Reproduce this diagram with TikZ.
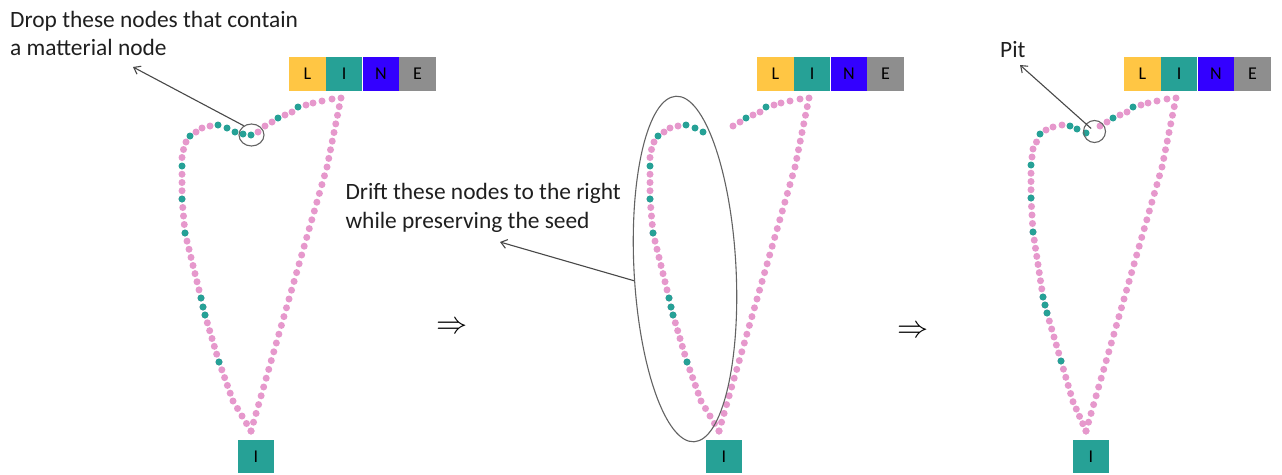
\documentclass[tikz,border=0pt]{standalone}
\usepackage{fontspec}
\setmainfont{Carlito}
\usetikzlibrary{calc,shapes.geometric,arrows.meta}
\definecolor{pk}{HTML}{E698CC}
\definecolor{tl}{HTML}{26A196}
\definecolor{ly}{HTML}{FFC644}
\definecolor{nb}{HTML}{3300FF}
\definecolor{eg}{HTML}{8E8E8E}
\definecolor{ln}{HTML}{484848}

\newcommand\dotr{3.5}
\newcommand\prun[3]{%
  \pgfmathtruncatemacro\mynmax{#3-1}%
  \foreach \k in {0,...,\mynmax}{%
    \pgfmathsetmacro\myf{\k/#3}%
    \fill[pdot] ($#1!\myf!#2$) circle[radius=\dotr];}}
\newcommand\pdots[1]{\foreach \p in {#1}{\fill[pdot] \p circle[radius=\dotr];}}
\newcommand\tdots[1]{\foreach \p in {#1}{\fill[tdot] \p circle[radius=\dotr];}}

% left part of the chain (panels 1 and 2)
\newcommand\leftA{%
  \prun{(251,431)}{(233,401)}{4}
  \prun{(233,401)}{(219,362)}{5}
  \prun{(219,362)}{(205,315)}{6}
  \prun{(205,315)}{(203,307)}{1}
  \prun{(203,307)}{(201,298)}{1}
  \prun{(201,298)}{(185,233)}{8}
  \prun{(185,233)}{(182,199)}{4}
  \prun{(182,199)}{(182,166)}{4}
  \pdots{(182,157.5),(183.5,149.5),(186,142),(196,132),(202,128),(210,126)}
  \tdots{(219,362),(205,315),(203,307),(201,298),(185,233),(182,199),(182,166),(190,136),(218,125),(227,128),(235,132)}}
% right part of the chain (all panels)
\newcommand\rightA{%
  \pdots{(265,126),(272,122),(285,115),(292,112),(306,105),(313,103),(322,101),(332,99),(251,431)}
  \prun{(341,98)}{(327,167)}{8}
  \prun{(327,167)}{(251,431)}{30}
  \tdots{(278,118),(298,107)}}

\begin{document}
\begin{tikzpicture}[x=1pt,y=-1pt,
  pdot/.style={fill=pk},
  tdot/.style={fill=tl},
  box/.style={minimum width=36.75, minimum height=34, inner sep=0, text=black,
    font=\fontsize{18}{18}\selectfont},
  txt/.style={inner sep=0, text=black!88, font=\fontsize{23.4}{28}\selectfont},
  ring/.style={draw=ln!85, line width=1.1, inner sep=0},
  arr/.style={draw=ln, line width=1.1, -{Straight Barb[length=6pt,width=9pt]}}]
\fill[white] (0,0) rectangle (1282,474);
\useasboundingbox (0,0) rectangle (1282,474);

% ---------- panel 1 ----------
\leftA
\rightA
\pdots{(258,132)}
\tdots{(243,134),(251,135)}

% ---------- panel 2 ----------
\begin{scope}[xshift=468]
  \leftA
  \rightA
\end{scope}

% ---------- panel 3 ----------
\begin{scope}[xshift=835]
  \rightA
\end{scope}
\prun{(1086,431)}{(1073,401.7)}{4}
\prun{(1073,401.7)}{(1061,361)}{5}
\prun{(1061,361)}{(1047,313)}{6}
\prun{(1047,313)}{(1045,305)}{1}
\prun{(1045,305)}{(1043,297)}{1}
\prun{(1043,297)}{(1033,232)}{8}
\prun{(1033,232)}{(1031,198)}{4}
\prun{(1031,198)}{(1031,165)}{4}
\pdots{(1032,157),(1033,149),(1036.5,142),(1046,130),(1053,127),(1062,125)}
\tdots{(1061,361),(1047,313),(1045,305),(1043,297),(1033,232),(1031,198),(1031,165),(1040,134),(1070,126),(1077,129),(1086,133)}

% ---------- LINE boxes ----------
\node[box, fill=ly] (L1) at (307.4,74) {L};
\node[box, fill=tl] (I1) at (344.1,74) {I};
\node[box, fill=nb] (N1) at (380.9,74) {N};
\node[box, fill=eg] (E1) at (417.6,74) {E};
\node[box, fill=ly] (L2) at (775.4,74) {L};
\node[box, fill=tl] (I2) at (812.1,74) {I};
\node[box, fill=nb] (N2) at (848.9,74) {N};
\node[box, fill=eg] (E2) at (885.6,74) {E};
\node[box, fill=ly] (L3) at (1142.4,74) {L};
\node[box, fill=tl] (I3) at (1179.1,74) {I};
\node[box, fill=nb] (N3) at (1215.9,74) {N};
\node[box, fill=eg] (E3) at (1252.6,74) {E};
% seed boxes
\node[box, fill=tl, minimum width=36, minimum height=33] (S1) at (256,456.5) {I};
\node[box, fill=tl, minimum width=36, minimum height=33] (S2) at (724,456.5) {I};
\node[box, fill=tl, minimum width=36, minimum height=33] (S3) at (1091,456.5) {I};

% ---------- rings ----------
\node[ring, ellipse, minimum width=25, minimum height=22] (c1) at (251.5,135) {};
\node[ring, ellipse, minimum width=102, minimum height=346, rotate=3] (e2) at (685,269) {};
\node[ring, circle, minimum size=22] (c3) at (1094.5,131.5) {};

% ---------- texts ----------
\node[txt, anchor=base west] (t1a) at (10,27) {Drop these nodes that contain};
\node[txt, anchor=base west] (t1b) at (10,55) {a matterial node};
\node[txt, anchor=base west] (t2a) at (345.3,199) {Drift these nodes to the right};
\node[txt, anchor=base west] (t2b) at (345.3,228) {while preserving the seed};
\node[txt, anchor=base west] (t3) at (1000,57) {Pit};
\node[inner sep=0] (i1) at (452,328) {\scalebox{1.5}{\fontsize{20}{20}\selectfont$\Rightarrow$}};
\node[inner sep=0] (i2) at (913,332) {\scalebox{1.5}{\fontsize{20}{20}\selectfont$\Rightarrow$}};

% ---------- arrows ----------
\coordinate (a1) at (133,67);
\coordinate (a2) at (500,242);
\coordinate (a3) at (1020,65);
\draw[arr] (c1.130) -- (a1);
\draw[arr] (e2.190) -- (a2);
\draw[arr, shorten <=4.5pt] (c3.center) -- (a3);
\end{tikzpicture}
\end{document}
